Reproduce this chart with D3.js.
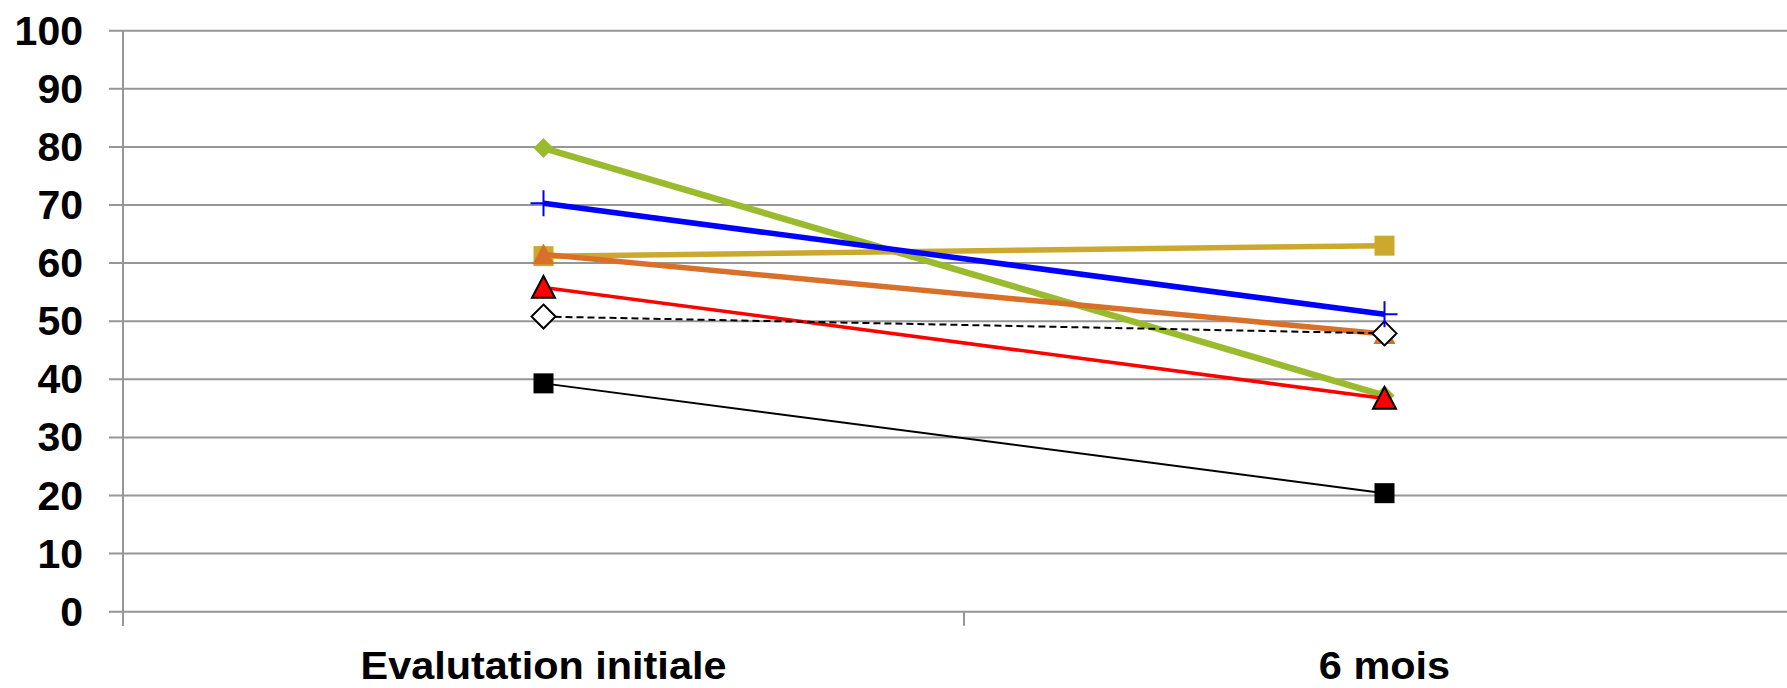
<!DOCTYPE html>
<html>
<head>
<meta charset="utf-8">
<script src="https://cdn.jsdelivr.net/npm/d3@7"></script>
<style>
  html, body { margin: 0; padding: 0; background: #fff; }
  svg { display: block; }
  text { font-family: "Liberation Sans", Arial, sans-serif; font-weight: bold; fill: #000; }
</style>
</head>
<body>
<svg id="chart" width="1787" height="688"></svg>
<script>
const categories = ["Evalutation initiale", "6 mois"];
const yTicks = [0, 10, 20, 30, 40, 50, 60, 70, 80, 90, 100];

const seriesNames = ["green", "gold", "orange", "blackSolid", "red", "blackDashed", "blue"];
const greenValues = [79.8, 37.2];
const goldValues = [61.2, 63.0];
const orangeValues = [61.5, 47.8];
const blackSolidValues = [39.3, 20.4];
const redValues = [55.8, 36.7];
const blackDashedValues = [50.8, 47.9];
const blueValues = [70.3, 51.2];

(function () {
const W = 1787;
const plotLeft = 123, plotRight = 1805, plotTop = 30.7, plotBottom = 611.7;

const svg = d3.select("#chart");

const x = d3.scaleBand().domain(categories).range([plotLeft, plotRight]).padding(0);
const y = d3.scaleLinear().domain([0, 100]).range([plotBottom, plotTop]);
const cx = c => x(c) + x.bandwidth() / 2;

// gridlines
const gridColor = "#969696";
svg.append("g").selectAll("line").data(yTicks).join("line")
  .attr("x1", plotLeft - 14).attr("x2", W)
  .attr("y1", d => y(d)).attr("y2", d => y(d))
  .attr("stroke", gridColor).attr("stroke-width", 2);

// y axis line
svg.append("line")
  .attr("x1", plotLeft).attr("x2", plotLeft)
  .attr("y1", plotTop).attr("y2", plotBottom + 14)
  .attr("stroke", gridColor).attr("stroke-width", 2);

// category ticks
const catBounds = categories.map(c => x(c)).concat([x(categories[categories.length - 1]) + x.bandwidth()]);
svg.append("g").selectAll("line").data(catBounds).join("line")
  .attr("x1", d => d).attr("x2", d => d)
  .attr("y1", plotBottom).attr("y2", plotBottom + 14)
  .attr("stroke", gridColor).attr("stroke-width", 2);

// y tick labels
svg.append("g").selectAll("text").data(yTicks).join("text")
  .attr("x", 83).attr("y", d => y(d))
  .attr("text-anchor", "end")
  .attr("dominant-baseline", "central")
  .attr("font-size", 41)
  .text(d => d);

// category labels (stretched to match the reference's wider geometric face)
const labelStretch = 1.09;
svg.append("g").selectAll("text").data(categories).join("text")
  .attr("x", d => cx(d)).attr("y", 679)
  .attr("text-anchor", "middle")
  .attr("font-size", 38)
  .text(d => d)
  .each(function () {
    const w = this.getComputedTextLength();
    d3.select(this).attr("textLength", w * labelStretch).attr("lengthAdjust", "spacingAndGlyphs");
  });

const series = {
  green:       { values: greenValues,       color: "#9bbb2f", width: 6.5, dash: null, marker: "diamond",  size: 10, fill: "#9bbb2f", mstroke: "none", msw: 0 },
  gold:        { values: goldValues,        color: "#cba92e", width: 5.5, dash: null, marker: "square",   size: 10, fill: "#cba92e", mstroke: "none", msw: 0 },
  orange:      { values: orangeValues,      color: "#d8702a", width: 5.5, dash: null, marker: "triangle", size: 11, fill: "#d8702a", mstroke: "none", msw: 0 },
  blackSolid:  { values: blackSolidValues,  color: "#000000", width: 2, dash: null, marker: "square",   size: 10, fill: "#000000", mstroke: "none", msw: 0 },
  red:         { values: redValues,         color: "#ff0000", width: 3.5, dash: null, marker: "triangle", size: 11.5, fill: "#ff0000", mstroke: "#000", msw: 2 },
  blackDashed: { values: blackDashedValues, color: "#000000", width: 2, dash: "7,4", marker: "diamond", size: 12, fill: "#ffffff", mstroke: "#000", msw: 2 },
  blue:        { values: blueValues,        color: "#0000ff", width: 5.5, dash: null, marker: "plus",     size: 13, fill: "none", mstroke: "#0000ff", msw: 2 }
};

function markerPath(type, s) {
  switch (type) {
    case "diamond": return `M0,${-s}L${s},0L0,${s}L${-s},0Z`;
    case "square": return `M${-s},${-s}H${s}V${s}H${-s}Z`;
    case "triangle": return `M0,${-s}L${s},${s * 0.9}L${-s},${s * 0.9}Z`;
    case "plus": return `M${-s},0H${s}M0,${-s}V${s}`;
  }
}

const line = d3.line().x(d => cx(d.c)).y(d => y(d.v));

seriesNames.forEach(name => {
  const s = series[name];
  const pts = categories.map((c, i) => ({ c, v: s.values[i] }));
  const g = svg.append("g");
  g.append("path").datum(pts)
    .attr("d", line)
    .attr("fill", "none")
    .attr("stroke", s.color)
    .attr("stroke-width", s.width)
    .attr("stroke-dasharray", s.dash);
  g.selectAll("path.m").data(pts).join("path")
    .attr("class", "m")
    .attr("transform", d => `translate(${cx(d.c)},${y(d.v)})`)
    .attr("d", markerPath(s.marker, s.size))
    .attr("fill", s.fill)
    .attr("stroke", s.mstroke)
    .attr("stroke-width", s.msw);
});
})();
</script>
</body>
</html>
